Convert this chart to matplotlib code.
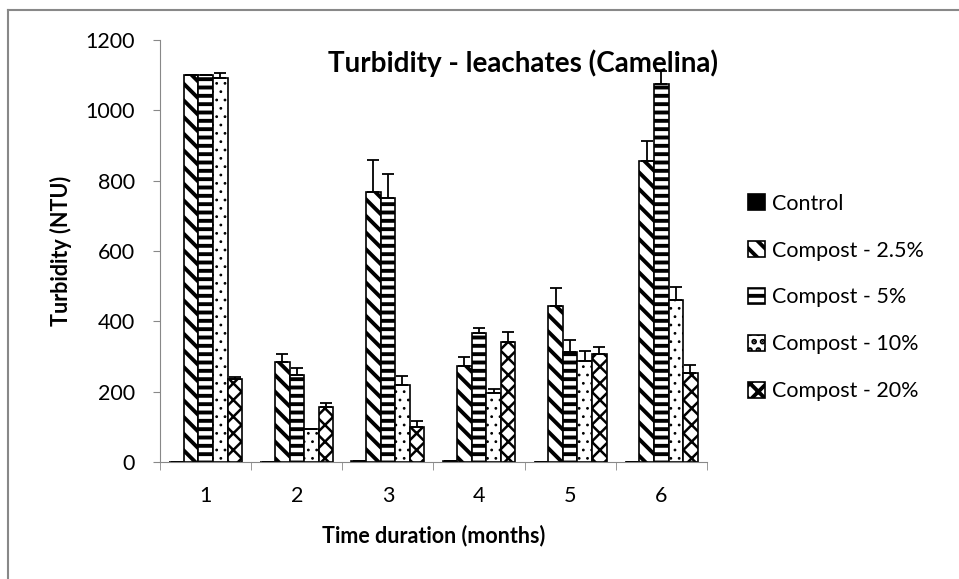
import matplotlib
matplotlib.use('Agg')
from matplotlib import pyplot as plt
from matplotlib.lines import Line2D
import numpy as np

# ----- data ----- #
months = ['1', '2', '3', '4', '5', '6']
series = ['Control', 'Compost - 2.5%', 'Compost - 5%', 'Compost - 10%', 'Compost - 20%']
control = [0, 0, 3, 3, 0, 0]
compost_25 = [1100, 285, 767, 272, 444, 855]
compost_5 = [1100, 247, 751, 367, 313, 1074]
compost_10 = [1091, 95, 218, 195, 287, 462]
compost_20 = [235, 157, 100, 341, 308, 253]
err_control = [0, 0, 0, 0, 0, 0]
err_25 = [0, 21, 92, 27, 51, 58]
err_5 = [0, 19, 67, 14, 35, 38]
err_10 = [15, 0, 28, 14, 29, 36]
err_20 = [8, 11, 17, 28, 19, 22]
yticks = [0, 200, 400, 600, 800, 1000, 1200]

plt.rcParams['font.family'] = ['Lato', 'DejaVu Sans']
plt.rcParams['hatch.linewidth'] = 2.8

fig = plt.figure(figsize=(9.59, 5.79), dpi=100)
ax = fig.add_axes([0.167, 0.202, 0.570, 0.729])

values = [control, compost_25, compost_5, compost_10, compost_20]
errors = [err_control, err_25, err_5, err_10, err_20]
hatches = [None, '\\\\', '--', '..', 'xx']
faces = ['black', 'white', 'white', 'white', 'white']

x = np.arange(1, len(months) + 1)
width = 0.16
handles = []
for i, (v, e, h, fc) in enumerate(zip(values, errors, hatches, faces)):
    e = np.array(e)
    bars = ax.bar(x + (i - 2) * width, v, width, color=fc, edgecolor='black',
                  linewidth=1.2, hatch=h,
                  yerr=[np.zeros_like(e), e],
                  error_kw=dict(ecolor='black', elinewidth=1.3, capsize=4, capthick=1.3))
    # thinner hatch for the dot and cross patterns
    if h in ('..', 'xx'):
        for b in bars:
            if hasattr(b, 'set_hatch_linewidth'):
                b.set_hatch_linewidth(0.8 if h == '..' else 1.8)
    handles.append(bars)

# ----- axes ----- #
ax.set_xlim(0.5, 6.5)
ax.set_ylim(0, 1200)
ax.set_yticks(yticks)
ax.set_xticks(x)
ax.set_xticklabels(months)
ax.set_xticks(np.arange(0.5, 7, 1), minor=True)
ax.tick_params(axis='x', which='major', length=0, labelsize=15.5, pad=17)
ax.tick_params(axis='x', which='minor', length=6, color='#888888')
ax.tick_params(axis='y', length=5, color='#888888', labelsize=15.5, pad=13)
for s in ['top', 'right']:
    ax.spines[s].set_visible(False)
for s in ['left', 'bottom']:
    ax.spines[s].set_color('#888888')

ax.set_xlabel('Time duration (months)', fontsize=15.5, fontweight='bold', labelpad=14)
ax.set_ylabel('Turbidity (NTU)', fontsize=15.5, fontweight='bold', labelpad=10)
fig.text(0.545, 0.89, 'Turbidity - leachates (Camelina)', ha='center', va='center',
         fontsize=20, fontweight='bold')

leg = ax.legend(handles, series, loc='center left', bbox_to_anchor=(1.04, 0.39),
                frameon=False, fontsize=15.5, handlelength=0.8, handleheight=0.8,
                handletextpad=0.3, labelspacing=1.25)

# ----- chart border (left and top only visible) ----- #
fig.add_artist(Line2D([8 / 959, 8 / 959], [0, 1 - 10 / 579], transform=fig.transFigure,
                      color='#888888', linewidth=1.5))
fig.add_artist(Line2D([8 / 959, 1], [1 - 10 / 579, 1 - 10 / 579], transform=fig.transFigure,
                      color='#888888', linewidth=1.5))

fig.savefig('out.png', dpi=100)
